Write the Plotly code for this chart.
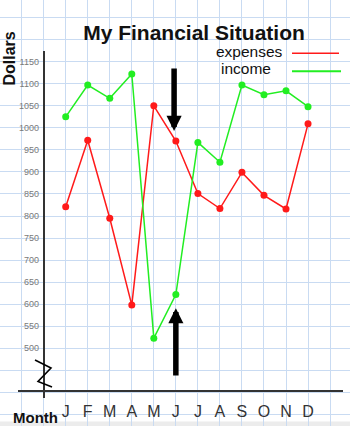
import plotly.graph_objects as go

# ---- data ----
months = ["J", "F", "M", "A", "M", "J", "J", "A", "S", "O", "N", "D"]
expenses = [821, 972, 795, 598, 1050, 970, 851, 817, 899, 847, 816, 1009]
income = [1025, 1097, 1067, 1122, 523, 622, 967, 922, 1097, 1075, 1084, 1048]
y_ticks = [500, 550, 600, 650, 700, 750, 800, 850, 900, 950, 1000, 1050, 1100, 1150]
month_pos = list(range(1, len(months) + 1))

W, H = 350, 426
FONT = "Liberation Sans, Arial, sans-serif"
GRID = "#c9dbf2"
RED = "#ff1a1a"
GREEN = "#22ee22"


def px(x):
    return x / W


def py(y):
    return 1 - y / H


fig = go.Figure()

# invisible trace to establish the full-page graph-paper grid
fig.add_trace(go.Scatter(x=[0], y=[1000], xaxis="x", yaxis="y",
                         mode="markers", marker=dict(opacity=0),
                         showlegend=False, hoverinfo="skip"))

fig.add_trace(go.Scatter(x=month_pos, y=expenses, xaxis="x2", yaxis="y2",
                         mode="lines+markers", name="expenses",
                         line=dict(color=RED, width=1.5),
                         marker=dict(color=RED, size=7),
                         showlegend=False, cliponaxis=False))
fig.add_trace(go.Scatter(x=month_pos, y=income, xaxis="x2", yaxis="y2",
                         mode="lines+markers", name="income",
                         line=dict(color=GREEN, width=1.5),
                         marker=dict(color=GREEN, size=7),
                         showlegend=False, cliponaxis=False))

shapes = []
# faint grey band at the very bottom of the page
shapes.append(dict(type="rect", xref="paper", yref="paper",
                   x0=0, x1=1, y0=py(426), y1=py(421.5),
                   fillcolor="#ececec", line=dict(width=0), layer="below"))
# axis-break squiggle
pts = [(35, 360), (51, 368), (38, 381.5), (52, 387)]
path = "M " + " L ".join(f"{px(a):.4f},{py(b):.4f}" for a, b in pts)
shapes.append(dict(type="path", xref="paper", yref="paper", path=path,
                   line=dict(color="black", width=1.6)))
# legend swatches
shapes.append(dict(type="line", xref="paper", yref="paper",
                   x0=px(292), x1=px(339), y0=py(53.3), y1=py(53.3),
                   line=dict(color=RED, width=1.5)))
shapes.append(dict(type="line", xref="paper", yref="paper",
                   x0=px(292), x1=px(341), y0=py(71.3), y1=py(71.3),
                   line=dict(color=GREEN, width=2)))

annotations = [
    dict(text="<b>Dollars</b>", x=px(9), y=py(58.5), xref="paper", yref="paper",
         textangle=-90, showarrow=False, font=dict(family=FONT, size=16, color="#111"),
         xanchor="center", yanchor="middle"),
    dict(text="<b>Month</b>", x=px(35), y=py(417.5), xref="paper", yref="paper",
         showarrow=False, font=dict(family=FONT, size=15, color="#111"),
         xanchor="center", yanchor="middle"),
    dict(text="expenses", x=px(249.5), y=py(52), xref="paper", yref="paper",
         showarrow=False, font=dict(family=FONT, size=15.5, color="#111"),
         xanchor="center", yanchor="middle"),
    dict(text="income", x=px(246), y=py(68.7), xref="paper", yref="paper",
         showarrow=False, font=dict(family=FONT, size=15.5, color="#111"),
         xanchor="center", yanchor="middle"),
    # down arrow
    dict(text="", x=5.92, y=993, xref="x2", yref="y2", ax=5.92, ay=1138,
         axref="x2", ayref="y2", showarrow=True, arrowhead=2, arrowsize=0.55,
         arrowwidth=5.5, arrowcolor="black", standoff=0),
    # up arrow
    dict(text="", x=6.0, y=591, xref="x2", yref="y2", ax=6.0, ay=435,
         axref="x2", ayref="y2", showarrow=True, arrowhead=2, arrowsize=0.55,
         arrowwidth=5.5, arrowcolor="black", standoff=0),
]

# pixel mapping: x_px = 43.67 + 22.03*i ; y_px = 61.7 + (1150 - v)*0.4409
XS, X0 = 22.03, 43.67
YS, Y0 = 0.4409, 61.7


def xr(p):
    return (p - X0) / XS


def yr(p):
    return 1150 - (p - Y0) / YS


fig.update_layout(
    width=W, height=H,
    margin=dict(l=0, r=0, t=0, b=0),
    paper_bgcolor="white", plot_bgcolor="rgba(0,0,0,0)",
    showlegend=False,
    title=dict(text="<b>My Financial Situation</b>", x=px(194), y=py(33),
               xanchor="center", yanchor="middle", xref="paper", yref="paper",
               font=dict(family=FONT, size=21, color="#111")),
    xaxis=dict(domain=[0, 1], range=[xr(0), xr(W)], dtick=1, tick0=0,
               showgrid=True, gridcolor=GRID, gridwidth=1, zeroline=False,
               showticklabels=False, ticks="", showline=False, fixedrange=True),
    yaxis=dict(domain=[0, 1], range=[yr(H), yr(0)], dtick=50, tick0=0,
               showgrid=True, gridcolor=GRID, gridwidth=1, zeroline=False,
               showticklabels=False, ticks="", showline=False, fixedrange=True),
    xaxis2=dict(domain=[px(18), px(343)], range=[xr(18), xr(343)],
                anchor="free", position=py(390.7),
                showline=True, linecolor="#333", linewidth=1.5,
                showgrid=False, zeroline=False, ticks="",
                tickvals=month_pos, ticktext=months, ticklabelstandoff=6,
                tickfont=dict(family=FONT, size=16, color="#333")),
    yaxis2=dict(domain=[py(398), py(51)], range=[yr(398), yr(51)],
                anchor="free", position=px(43.5),
                showline=True, linecolor="#333", linewidth=1.5,
                showgrid=False, zeroline=False, ticks="",
                tickvals=y_ticks, ticklabelstandoff=2,
                tickfont=dict(family=FONT, size=9, color="#7a7a7a")),
    shapes=shapes,
    annotations=annotations,
)

fig.write_html("out.html")
